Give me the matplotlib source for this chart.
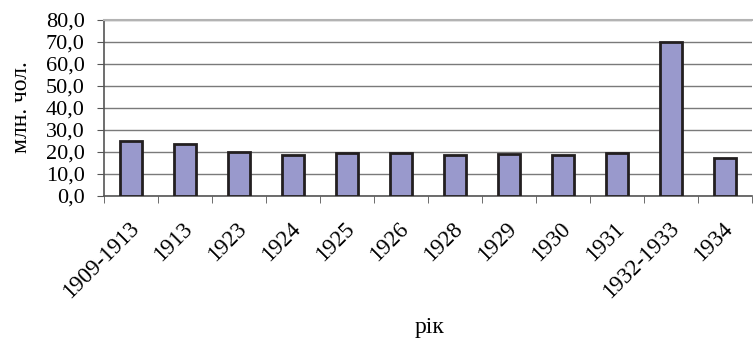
import matplotlib.pyplot as plt
import matplotlib.transforms as mtransforms
import numpy as np

years = ['1909-1913', '1913', '1923', '1924', '1925', '1926', '1928',
         '1929', '1930', '1931', '1932-1933', '1934']
population = [25.0, 23.8, 20.0, 18.5, 19.4, 19.7, 18.5, 19.2, 18.7, 19.5, 70.0, 17.3]

plt.rcParams['font.family'] = ['Liberation Serif', 'DejaVu Serif']

fig = plt.figure(figsize=(7.53, 3.40), dpi=100)
ax = fig.add_axes([104 / 753, 1 - 196 / 340, 648 / 753, 176 / 340])

x = np.arange(len(years))
ax.bar(x, population, width=0.4, color='#9999cc', edgecolor='#231f20',
       linewidth=2, zorder=3)

ax.set_xlim(-0.5, len(years) - 0.5)
ax.set_ylim(0, 80)
ax.set_yticks(np.arange(0, 81, 10))
ax.set_yticklabels([f'{v:.1f}'.replace('.', ',') for v in range(0, 81, 10)], fontsize=16)
ax.yaxis.grid(True, color='#7a7a7a', linewidth=1, zorder=0)

# category labels in the middle, tick marks at the boundaries
ax.set_xticks(x)
ax.set_xticklabels(years, rotation=45, ha='right', rotation_mode='anchor', fontsize=16.5)
ax.tick_params(axis='x', which='major', length=0, pad=16)
shift = mtransforms.ScaledTranslation(-2 / 72, 0, fig.dpi_scale_trans)
for lbl in ax.get_xticklabels():
    lbl.set_transform(lbl.get_transform() + shift)
ax.set_xticks(np.arange(-0.5, len(years)), minor=True)
ax.tick_params(axis='x', which='minor', length=5, color='#555555')
ax.tick_params(axis='y', length=5, color='#555555', pad=9)

for side in ['left', 'bottom']:
    ax.spines[side].set_color('#555555')
    ax.spines[side].set_linewidth(1.2)
ax.spines['right'].set_visible(False)
ax.spines['top'].set_color('#b3b3b3')
ax.spines['top'].set_linewidth(1.5)

fig.text(22 / 753, 1 - 107 / 340, 'млн. чол.', rotation=90, ha='center', va='center', fontsize=17)
fig.text(430 / 753, 1 - 328 / 340, 'рік', ha='center', va='center', fontsize=17)

plt.savefig('out.png', dpi=100, facecolor='white')
